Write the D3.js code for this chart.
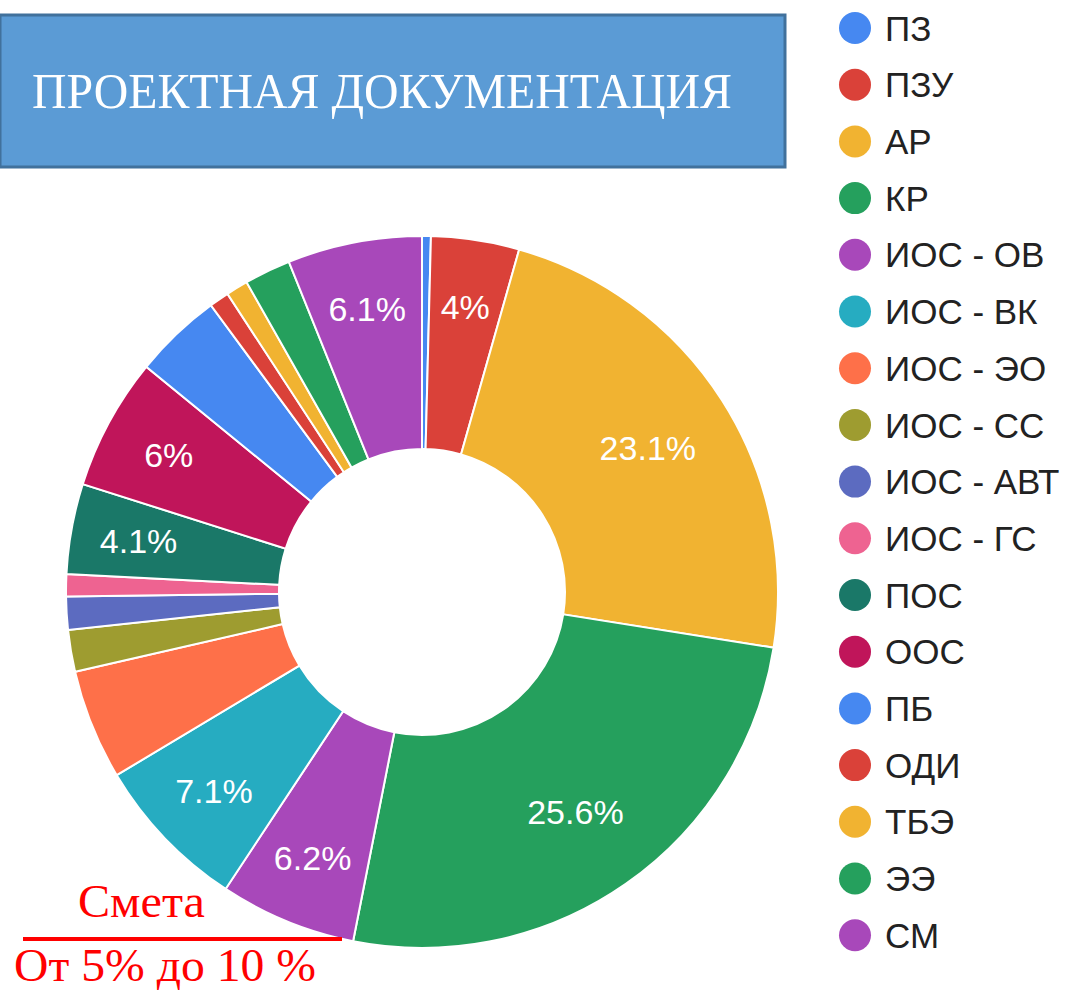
<!DOCTYPE html>
<html>
<head>
<meta charset="utf-8">
<script src="https://cdn.jsdelivr.net/npm/d3@7"></script>
<style>
  body { margin: 0; background: #fff; }
  svg { display: block; }
</style>
</head>
<body>
<div id="chart"></div>
<script>
const categories = ['ПЗ', 'ПЗУ', 'АР', 'КР', 'ИОС - ОВ', 'ИОС - ВК', 'ИОС - ЭО', 'ИОС - СС',
    'ИОС - АВТ', 'ИОС - ГС', 'ПОС', 'ООС', 'ПБ', 'ОДИ', 'ТБЭ', 'ЭЭ', 'СМ'];
const shares = [0.4, 4.0, 23.1, 25.6, 6.2, 7.1, 5.0, 1.9, 1.5, 1.0, 4.1, 6.0, 4.0, 0.9, 1.0, 2.1, 6.1];
// slices whose percentage text fits inside
const labelled = ['ПЗУ', 'АР', 'КР', 'ИОС - ОВ', 'ИОС - ВК', 'ПОС', 'ООС', 'СМ'];
const palette = ['#4688F1', '#DA4139', '#F1B331', '#25A05D', '#A848BA', '#26ACC1',
    '#FE7049', '#9E9C30', '#5C6BC0', '#EE6391', '#1A7868', '#C0155A'];
const title = 'ПРОЕКТНАЯ ДОКУМЕНТАЦИЯ';
const noteTop = 'Смета';
const noteBottom = 'От 5% до 10 %';

const width = 1066, height = 992;
const cx = 422, cy = 592, outerR = 356, innerR = 143;

const data = categories.map((c, i) => ({ name: c, value: shares[i] }));

const svg = d3.select('#chart').append('svg')
    .attr('width', width)
    .attr('height', height);

const color = d3.scaleOrdinal()
    .domain(categories)
    .range(categories.map((c, i) => palette[i % palette.length]));

// title box
svg.append('rect')
    .attr('x', 0).attr('y', 15)
    .attr('width', 785).attr('height', 152)
    .attr('fill', '#5B9BD5')
    .attr('stroke', '#41719C')
    .attr('stroke-width', 3);

svg.append('text')
    .attr('x', 32).attr('y', 108)
    .attr('fill', '#fff')
    .attr('textLength', 700)
    .attr('lengthAdjust', 'spacingAndGlyphs')
    .style('font-family', '"Liberation Serif", "Times New Roman", serif')
    .style('font-size', '50px')
    .text(title);

// donut
const pie = d3.pie().sort(null).value(d => d.value);
const arc = d3.arc().innerRadius(innerR).outerRadius(outerR);
const total = d3.sum(shares);
const fmt = d3.format('.1~f');
// wide slices get their text a bit further in, narrow ones near the rim
const labelRadius = d => (d.endAngle - d.startAngle) > 1 ? 268 : 288;

const g = svg.append('g').attr('transform', `translate(${cx},${cy})`);
const arcs = pie(data);

g.selectAll('path')
    .data(arcs)
    .enter().append('path')
    .attr('d', arc)
    .attr('fill', d => color(d.data.name))
    .attr('stroke', '#fff')
    .attr('stroke-width', 2);

g.selectAll('text')
    .data(arcs.filter(d => labelled.includes(d.data.name)))
    .enter().append('text')
    .attr('transform', d => {
        const r = labelRadius(d);
        return `translate(${d3.arc().innerRadius(r).outerRadius(r).centroid(d)})`;
    })
    .attr('text-anchor', 'middle')
    .attr('dy', '0.35em')
    .attr('fill', '#fff')
    .style('font-family', 'Arial, "Liberation Sans", sans-serif')
    .style('font-size', '34px')
    .text(d => fmt(d.data.value / total * 100) + '%');

// legend
const legend = svg.append('g')
    .selectAll('g')
    .data(categories)
    .enter().append('g')
    .attr('transform', (d, i) => `translate(855, ${28 + i * 56.7})`);

legend.append('circle')
    .attr('r', 16)
    .attr('fill', d => color(d));

legend.append('text')
    .attr('x', 30)
    .attr('dy', '0.36em')
    .attr('fill', '#222')
    .style('font-family', 'Arial, "Liberation Sans", sans-serif')
    .style('font-size', '35px')
    .text(d => d);

// note in the corner
svg.append('text')
    .attr('x', 78).attr('y', 917)
    .attr('fill', '#FF0000')
    .attr('textLength', 127)
    .attr('lengthAdjust', 'spacingAndGlyphs')
    .style('font-family', '"Liberation Serif", "Times New Roman", serif')
    .style('font-size', '47px')
    .text(noteTop);

svg.append('line')
    .attr('x1', 23).attr('x2', 342)
    .attr('y1', 939).attr('y2', 939)
    .attr('stroke', '#FF0000')
    .attr('stroke-width', 4);

svg.append('text')
    .attr('x', 14).attr('y', 981)
    .attr('fill', '#FF0000')
    .attr('textLength', 302)
    .attr('lengthAdjust', 'spacingAndGlyphs')
    .style('font-family', '"Liberation Serif", "Times New Roman", serif')
    .style('font-size', '46px')
    .text(noteBottom);
</script>
</body>
</html>
